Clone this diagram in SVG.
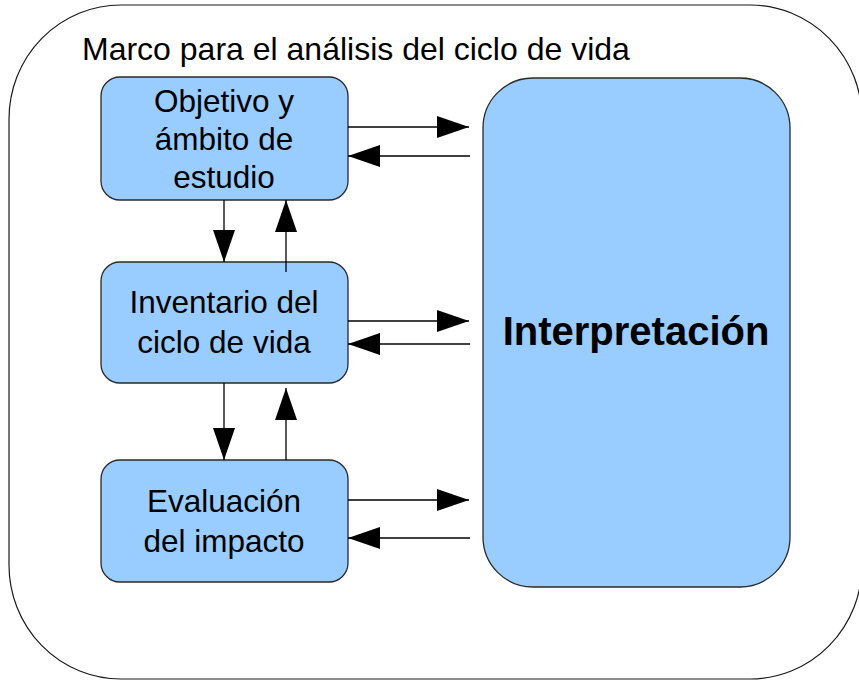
<svg xmlns="http://www.w3.org/2000/svg" width="859" height="680" viewBox="0 0 859 680">
<style>
.frame{fill:#ffffff;stroke:#1a1a1a;stroke-width:1.2}
.node{fill:#99ccff;stroke:#2a2a2a;stroke-width:1.3}
.t{font-family:"Liberation Sans",Arial,sans-serif;font-size:31.5px;fill:#000;text-anchor:middle}
.title{font-family:"Liberation Sans",Arial,sans-serif;font-size:32px;fill:#000}
.big{font-family:"Liberation Sans",Arial,sans-serif;font-size:40px;font-weight:bold;fill:#000;text-anchor:middle}
.c{fill:none;stroke:#000;stroke-width:1.3;marker-end:url(#ah)}
</style>
<defs>
<marker id="ah" viewBox="0 0 32 22" refX="32" refY="11" markerWidth="32" markerHeight="22" markerUnits="userSpaceOnUse" orient="auto">
<path d="M0,0 L32,11 L0,22 Z" fill="#000"/>
</marker>
</defs>
<rect width="859" height="680" fill="#ffffff"/>
<g id="frame">
<rect class="frame" x="9" y="5" width="853" height="674" rx="112" ry="114"/>
<text class="title" x="82" y="60">Marco para el análisis del ciclo de vida</text>
</g>
<g id="objetivo">
<rect class="node" x="101" y="77" width="247" height="123" rx="19"/>
<text class="t" x="224" y="112">Objetivo y</text>
<text class="t" x="224" y="150">ámbito de</text>
<text class="t" x="224" y="188">estudio</text>
</g>
<g id="inventario">
<rect class="node" x="101" y="262" width="247" height="121" rx="19"/>
<text class="t" x="224" y="313">Inventario del</text>
<text class="t" x="224" y="353">ciclo de vida</text>
</g>
<g id="evaluacion">
<rect class="node" x="101" y="460" width="247" height="122" rx="19"/>
<text class="t" x="224" y="512">Evaluación</text>
<text class="t" x="224" y="552">del impacto</text>
</g>
<g id="interpretacion">
<rect class="node" x="483" y="78" width="307" height="509" rx="50"/>
<text class="big" x="636" y="345">Interpretación</text>
</g>
<g id="connectors">
<path class="c" d="M348,127 H469"/>
<path class="c" d="M470,156 H348"/>
<path class="c" d="M348,321 H469"/>
<path class="c" d="M470,344 H348"/>
<path class="c" d="M348,500 H469"/>
<path class="c" d="M470,538 H348"/>
<path class="c" d="M224,200 V262"/>
<path class="c" d="M286,272 V200"/>
<path class="c" d="M224,383 V460"/>
<path class="c" d="M286,460 V388"/>
</g>
</svg>
